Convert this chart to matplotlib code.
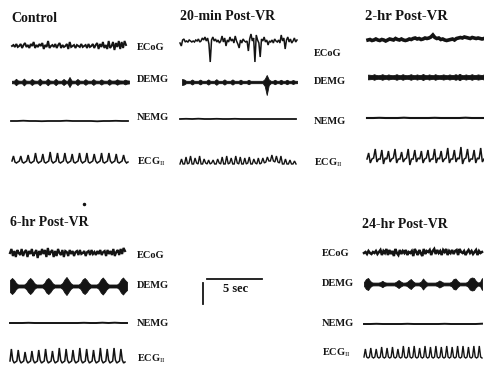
import numpy as np
import matplotlib
matplotlib.use("Agg")
from matplotlib import pyplot as plt

plt.rcParams["font.family"] = ["Liberation Serif", "DejaVu Serif"]
plt.rcParams["mathtext.fontset"] = "custom"
plt.rcParams["mathtext.rm"] = "Liberation Serif"

# traces, pixel offsets (up = positive)
ctrl_ecog = [0, 1, -1, 2, -1, 0, 2, -2, 1, 3, -1, 1, -2, 2, 0, 4, -2, 1, -1, 2,
             0, 3, -3, 1, -1, 5, -2, 0, 1, -1, 2, -2, 1, 3, -2, 1, -1, 0, 2, -3,
             4, -1, 0, 1, -2, 1, 0, -1, 2, -1, 0, 1, -2, 2, -1, 0, 2, -2, 1, 3,
             -3, 2, -1, 4, -2, 1, -3, 5, -2, 0, 4, -4, 3, -1, 5, -3, 4, -2, 5, 1]
ctrl_demg = [1.3, 1.3, 3.2, 1.5, 1.3, 1.3, 3.4, 1.4, 1.3, 1.3, 3.0, 1.5, 1.3, 1.3, 3.3,
             1.4, 1.3, 1.3, 3.2, 1.5, 1.3, 1.3, 3.1, 1.4, 1.3, 1.3, 3.0, 1.4, 1.3, 5.0,
             1.5, 1.3, 1.3, 3.0, 1.4, 1.3, 1.3, 2.8, 1.4, 1.3, 1.3, 2.9, 1.4, 1.3, 1.3,
             2.6, 1.4, 1.3, 1.3, 2.8, 1.4, 1.4, 1.5, 2.7, 1.6, 1.5, 1.4, 2.4, 1.6, 1.5]
ctrl_nemg = [0, 0, 0.3, 0, 0, -0.2, 0, 0, 0, 0.3, 0, 0, 0, 0, -0.3, 0, 0, 0.2, 0, 0]
ctrl_ecg = [0, 5, -1, -2, -1, 0, 5, -1, -2, -1, 0, 6, -1, -2, -1, 0, 8, 0, -2, -1,
            0, 7, -1, -2, -1, 0, 9, 0, -2, -1, 0, 8, -1, -2, -1, 0, 8, 0, -2, -1,
            0, 7, -1, -2, -1, 0, 8, 0, -2, -1, 0, 8, -1, -2, -1, 0, 7, 0, -2, -1,
            0, 8, -1, -2, -1, 0, 8, 0, -2, -1, 0, 7, -1, -2, -1, 0, 6, 0, -2, -1]

min20_ecog = [0, -3, 3, 4, 1, 2, 1, 3, 2, 1, 2, 1, 3, 2, 4, 1, 2, 5, 3, 6,
              2, 5, -1, -19, 3, 6, 2, 4, 1, 3, 0, 2, 7, 1, 5, -3, 3, 1, 6, 2,
              4, 0, 7, 2, -1, -5, 3, 0, 4, 2, 1, 2, -8, 4, 9, 2, 5, -19, 8, 3,
              0, -14, 4, 2, 6, 1, 3, -2, 2, 1, 3, 0, 4, 2, 1, 3, 0, 8, 2, 5,
              -6, 3, 6, 1, 4, 0, 2, 5, 1, 3]
min20_demg_up = [3.0, 2.5, 1.2, 1.2, 1.2, 2.5, 1.2, 1.2, 1.2, 2.4, 1.2, 1.2, 1.2, 2.6, 1.2,
                 1.2, 1.2, 2.8, 1.2, 1.2, 1.2, 2.6, 1.2, 1.2, 1.2, 2.6, 1.2, 1.2, 1.2, 2.3,
                 1.2, 1.2, 1.2, 2.2, 1.2, 1.2, 1.2, 1.2, 1.2, 1.2, 1.2, 3.0, 7.0, 2.5, 1.2,
                 1.2, 2.2, 1.2, 1.2, 2.2, 1.2, 1.2, 2.2, 1.2, 1.2, 2.0, 1.2, 1.2]
min20_demg_dn = [3.0, 2.5, 1.2, 1.2, 1.2, 2.5, 1.2, 1.2, 1.2, 2.4, 1.2, 1.2, 1.2, 2.6, 1.2,
                 1.2, 1.2, 2.8, 1.2, 1.2, 1.2, 2.6, 1.2, 1.2, 1.2, 2.6, 1.2, 1.2, 1.2, 2.3,
                 1.2, 1.2, 1.2, 2.2, 1.2, 1.2, 1.2, 1.2, 1.2, 1.2, 1.2, 4.0, 13.0, 3.0, 1.2,
                 1.2, 2.2, 1.2, 1.2, 2.2, 1.2, 1.2, 2.2, 1.2, 1.2, 2.0, 1.2, 1.2]
min20_nemg = [0, 0.2, 0, 0.3, 0, 0, 0.2, 0, 0, 0.2, 0, 0, 0, 0, 0, 0, 0, 0, 0, 0]
min20_ecg = [0, 5, 0, 0, 7, 0, 1, 8, 0, 0, 6, 1, 0, 8, 0, 0, 5, 1, 0, 4, 0, 1, 4, 0,
             0, 5, 1, 0, 7, 0, 0, 8, 0, 1, 6, 0, 0, 8, 1, 0, 7, 0, 0, 6, 0, 1, 7, 0,
             0, 5, 1, 0, 6, 0, 1, 6, 1, 2, 7, 3, 3, 9, 3, 2, 8, 2, 1, 8, 0, 0, 5, 0,
             0, 4, 0, 0, 3, 0]

hr2_ecog = [0, 0.5, -0.5, 0, 1, 0, -0.5, 0.5, 0, -1, 0, 1, 0.5, 0, 1.5, 0.5, 0, 1, 0, -0.5,
            0, 1, 0.5, 1.5, 2, 1, 1.5, 0.5, 1, 2, 1.5, 2, 3, 5, 2.5, 1.5, 2, 0.5, 1, 0,
            -0.5, 0, 0.5, 1, 0, 1.5, 2, 2.5, 2, 3, 2.5, 2, 1.5, 2.5, 2, 1.5, 2, 1.5, 1, 1.5]
hr2_demg = [2.4, 2.2, 2.0, 2.8, 2.0, 1.8, 2.0, 2.8, 2.0, 1.8, 2.6, 2.0, 1.8, 2.0, 2.8,
            2.0, 1.8, 2.8, 2.0, 1.8, 2.0, 2.8, 2.0, 1.8, 2.6, 2.0, 2.0, 3.0, 2.0, 1.8,
            2.6, 2.0, 1.8, 2.8, 2.0, 1.8, 2.0, 2.6, 2.0, 1.8, 2.6, 2.0, 2.0, 2.8, 2.0,
            3.2, 2.0, 1.8, 2.6, 2.0, 2.0, 2.8, 2.0, 2.0, 2.6, 2.2, 2.0, 2.6]
hr2_nemg = [0, 0, 0.2, 0, 0, 0, 0.3, 0, 0, 0, 0, 0.2, 0, 0, 0, 0, 0.3, 0, 0, 0]
hr2_ecg = [0, 6, -4, 0, 1, 10, -3, 0, 0, 9, -5, 1, 0, 8, -3, 0, 1, 10, -4, 0,
           0, 7, -3, 0, 1, 10, -6, 0, 0, 9, -3, 1, 0, 8, -4, 0, 1, 9, -3, 0,
           0, 10, -4, 1, 0, 8, -3, 0, 1, 11, -4, 0, 0, 9, -3, 1, 0, 12, -5, 0,
           1, 10, -3, 0, 0, 9, -4, 1, 0, 11, -3, 0]

hr6_ecog = [0, 4, -3, 2, -4, 3, 0, -2, 4, -3, 1, 3, -4, 2, -1, 4, -3, 0, 3, -5,
            2, -2, 4, -1, 3, -4, 5, -2, 1, 3, -4, 2, -3, 4, 0, -2, 3, -4, 2, 1,
            -3, 3, -1, 2, -3, 1, 2, -2, 3, -1, 0, 2, -3, 1, 2, -2, 3, -1, 1, -2,
            2, -1, 3, -2, 1, 2, -3, 3, -1, 2, -2, 4, -3, 1, 3, -2, 4, -1, 5, 2]
hr6_demg = [6.0, 8.0, 6.0, 3.0, 1.5, 1.5, 1.5, 1.5, 3.0, 6.0, 8.0, 6.0, 3.0, 1.5, 1.5,
            1.5, 1.5, 3.0, 6.5, 8.0, 6.0, 3.0, 1.5, 1.5, 1.5, 1.5, 3.0, 6.5, 9.0, 6.0,
            3.0, 1.5, 1.5, 1.5, 1.5, 3.0, 6.5, 8.0, 6.0, 3.0, 1.5, 1.5, 1.5, 1.5, 3.0,
            6.5, 8.5, 6.0, 3.0, 1.5, 1.5, 1.5, 1.5, 1.5, 3.0, 6.5, 8.5, 6.0, 4.0]
hr6_nemg = [0, 0, 0, 0.2, 0, 0, 0, 0, 0, 0, 0, 0, 0.2, 0, 0, 0.3, 0, 0.3, 0, 0]
hr6_ecg = [0, 12, 1, -2, -1, 0, 11, 1, -2, -1, 0, 9, 1, -2, -1, 0, 10, 1, -2, -1,
           0, 11, 1, -2, -1, 0, 12, 1, -2, -1, 0, 10, 1, -2, -1, 0, 13, 1, -2, -1,
           0, 12, 1, -2, -1, 0, 11, 1, -2, -1, 0, 13, 1, -2, -1, 0, 12, 1, -2, -1,
           0, 11, 1, -2, -1, 0, 13, 1, -2, -1, 0, 12, 1, -2, -1, 0, 13, 1, -2, -1,
           0, 12, 1, -2, -1]

hr24_ecog = [0, 1, -1, 2, 0, -1, 1, 0, 2, -1, 1, 3, -2, 2, 0, 4, -2, 3, -1, 2,
             -3, 4, 0, -2, 3, -1, 2, 0, 3, -2, 1, 0, 2, -3, 4, 1, -2, 3, 0, -3,
             4, -1, 2, 1, 3, -2, 2, 4, -1, 3, 0, 2, -2, 3, 1, 4, -2, 2, 0, 3,
             -1, 2, 3, -2, 4, 1, 0, 2, -2, 1, 3, 0, 2, -1, 1, 3, -2, 2, 0, 1]
hr24_demg = [2.0, 5.0, 6.0, 3.0, 1.5, 1.4, 1.4, 1.4, 1.8, 3.2, 1.8, 1.4, 1.4, 1.4, 1.4,
             1.4, 2.5, 4.0, 2.5, 1.4, 1.4, 1.8, 3.5, 5.0, 2.8, 1.4, 1.4, 1.4, 2.4, 5.5,
             3.0, 1.4, 1.4, 1.4, 1.4, 1.4, 2.0, 3.5, 2.5, 1.4, 1.4, 1.4, 1.4, 2.2, 5.0,
             5.5, 3.0, 1.4, 1.4, 1.4, 1.4, 2.5, 5.5, 6.5, 6.0, 3.0, 1.5, 2.0, 6.0]
hr24_nemg = [0, 0, 0.2, 0, 0, 0, 0, 0.2, 0, 0, 0, 0, 0, 0.2, 0, 0, 0, 0, 0, 0.3]
hr24_ecg = [0, 8, 0, -1, 0, 9, 0, -1, 0, 8, 0, -1, 0, 10, 0, -1, 0, 9, 0, -1,
            0, 10, 0, -1, 0, 8, 0, -1, 0, 11, 0, -1, 0, 10, 0, -1, 0, 11, 0, -1,
            0, 9, 0, -1, 0, 11, 0, -1, 0, 10, 0, -1, 0, 11, 0, -1, 0, 10, 0, -1,
            0, 11, 0, -1, 0, 10, 0, -1, 0, 11, 0, -1, 0, 11, 0, -1, 0, 10, 0, -1,
            0, 11, 0, -1, 0, 11, 0, -1]

titles = ["Control", "20-min Post-VR", "2-hr Post-VR", "6-hr Post-VR", "24-hr Post-VR"]
labels = ["ECoG", "DEMG", "NEMG", r"ECG$_{\rm II}$"]

INK = "#141414"

fig = plt.figure(figsize=(4.84, 3.77), dpi=100)
ax = fig.add_axes([0, 0, 1, 1])
ax.set_xlim(0, 484)
ax.set_ylim(377, 0)
ax.axis("off")


def line(vals, x0, x1, y, lw):
    v = np.asarray(vals, dtype=float)
    x = np.linspace(x0, x1, len(v))
    ax.plot(x, y - v, color=INK, lw=lw, solid_joinstyle="miter")


def band(up, x0, x1, y, dn=None):
    u = np.asarray(up, dtype=float)
    d = u if dn is None else np.asarray(dn, dtype=float)
    x = np.linspace(x0, x1, len(u))
    ax.fill_between(x, y - u, y + d, color=INK, lw=0.6, edgecolor=INK)


# Control
line(ctrl_ecog, 12, 126, 46, 1.4)
band(ctrl_demg, 12, 129, 82)
line(ctrl_nemg, 11, 128, 121, 1.3)
line(ctrl_ecg, 12, 128, 161, 1.1)

# 20-min
line(min20_ecog, 180, 297, 43, 1.1)
band(min20_demg_up, 182, 297, 82, min20_demg_dn)
line(min20_nemg, 180, 296, 119, 1.3)
line(min20_ecg, 180, 296, 164, 1.0)

# 2-hr
line(hr2_ecog, 368, 484, 40, 2.6)
band(hr2_demg, 368, 484, 77)
line(hr2_nemg, 367, 484, 118, 1.5)
line(hr2_ecg, 367, 484, 159, 1.1)

# 6-hr
line(hr6_ecog, 10, 125, 253, 1.6)
band(hr6_demg, 10, 127, 286)
line(hr6_nemg, 10, 127, 323, 1.4)
line(hr6_ecg, 10, 125, 361, 1.1)

# 24-hr
line(hr24_ecog, 364, 482, 253, 1.8)
band(hr24_demg, 364, 482, 284)
line(hr24_nemg, 364, 482, 324, 1.4)
line(hr24_ecg, 364, 482, 357, 1.0)

tfont = dict(fontsize=10, fontweight="bold", va="center", ha="left", color=INK)
ax.text(11, 18, titles[0], **tfont)
ax.text(180, 17, titles[1], **tfont)
ax.text(365, 17, titles[2], fontsize=10.5, fontweight="bold", va="center", ha="left", color=INK)
ax.text(10, 222, titles[3], **tfont)
ax.text(362, 224, titles[4], **tfont)
ax.plot([84], [204], marker="o", ms=1.5, color=INK)

lfont = dict(fontsize=7.5, fontweight="bold", va="center", ha="left", color=INK)
for lx, ys in [(137, [47, 79, 118, 162]), (314, [53, 81, 121, 163]),
               (137, [256, 285, 323, 359]), (322, [254, 283, 324, 353])]:
    for lab, ly in zip(labels, ys):
        ax.text(lx, ly, lab, **lfont)

# scale bar
ax.plot([207, 262], [279, 279], color=INK, lw=1.3)
ax.plot([203, 203], [283, 304], color=INK, lw=1.3)
ax.text(223, 289, "5 sec", fontsize=9, fontweight="bold", va="center", ha="left", color=INK)

fig.savefig("out.png", dpi=100, facecolor="white")
